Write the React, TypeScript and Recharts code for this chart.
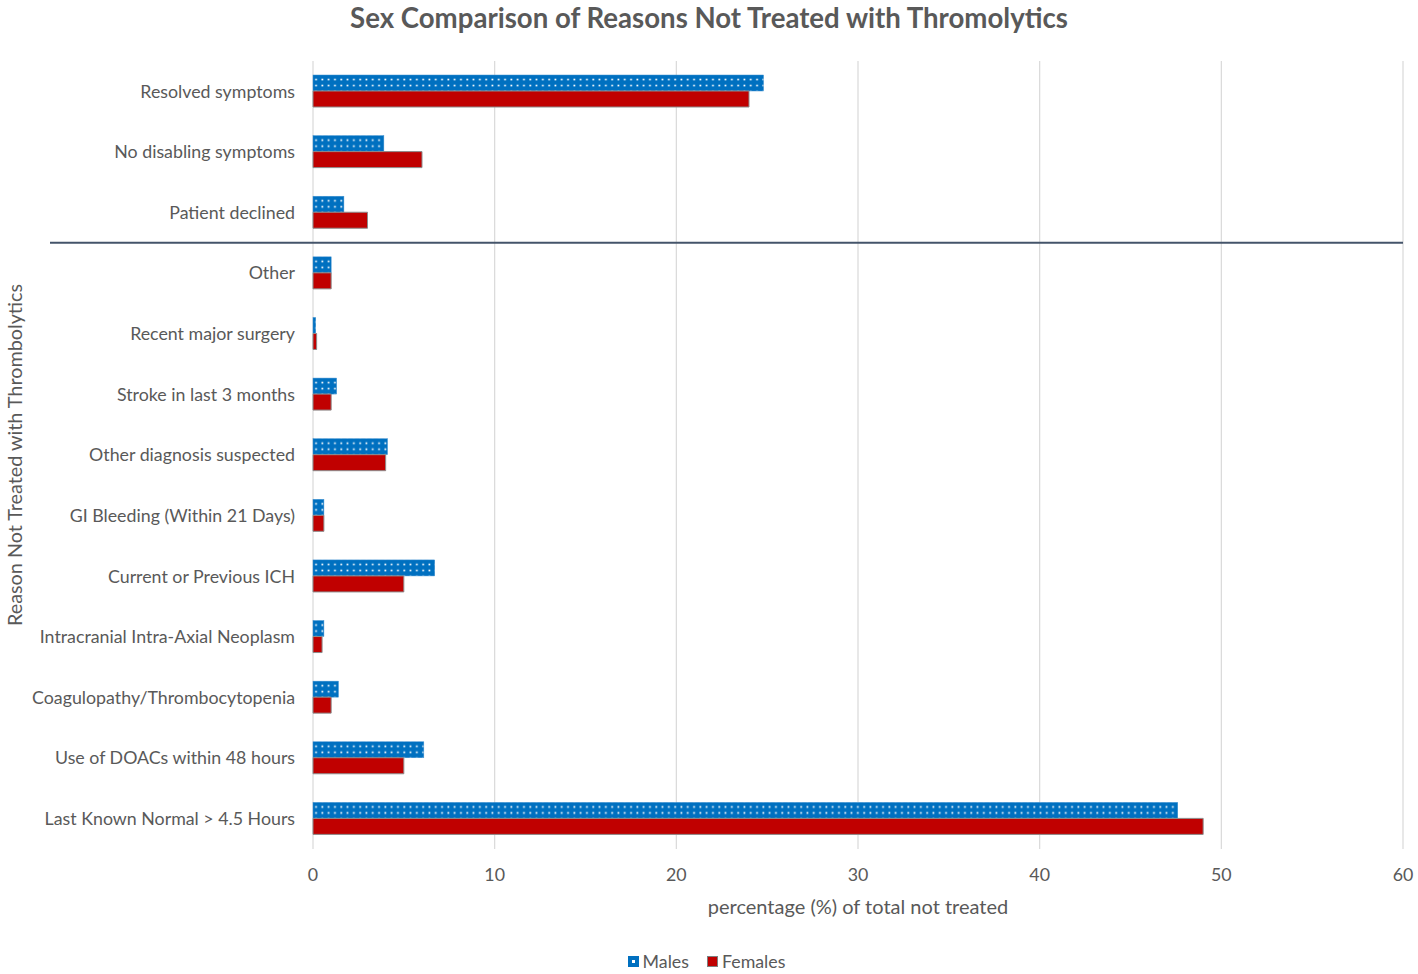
import React from "react";
import {
  BarChart,
  Bar,
  XAxis,
  YAxis,
  CartesianGrid,
  Legend,
  ReferenceLine,
} from "recharts";

const categories = [
  "Resolved symptoms",
  "No disabling symptoms",
  "Patient declined",
  "Other",
  "Recent major surgery",
  "Stroke in last 3 months",
  "Other diagnosis suspected",
  "GI Bleeding (Within 21 Days)",
  "Current or Previous ICH",
  "Intracranial Intra-Axial Neoplasm",
  "Coagulopathy/Thrombocytopenia",
  "Use of DOACs within 48 hours",
  "Last Known Normal > 4.5 Hours",
];
const malesValues = [24.8, 3.9, 1.7, 1.0, 0.15, 1.3, 4.1, 0.6, 6.7, 0.6, 1.4, 6.1, 47.6];
const femalesValues = [24.0, 6.0, 3.0, 1.0, 0.2, 1.0, 4.0, 0.6, 5.0, 0.5, 1.0, 5.0, 49.0];
const xTicks = [0, 10, 20, 30, 40, 50, 60];
const separatorBefore = "Other";

const data = categories.map((name, i) => ({
  name,
  Males: malesValues[i],
  Females: femalesValues[i],
}));

const FONT = "Lato, 'Open Sans', sans-serif";
const TEXT = "#595959";
const BLUE = "#0070C0";
const RED = "#C00000";
const FS = 17.8;

const MaleShape = (props: any) => {
  const { x, y, width, height, index } = props;
  if (!width || width <= 0) return null;
  const id = `maleDots-${index}`;
  return (
    <g>
      <defs>
        <pattern id={id} patternUnits="userSpaceOnUse" x={x} y={y} width={6.3} height={6}>
          <rect x={0} y={0} width={6.3} height={6} fill={BLUE} />
          <rect x={2.2} y={3.7} width={1.7} height={1.7} fill="#fff" />
        </pattern>
      </defs>
      <rect x={x} y={y} width={width} height={height} fill={`url(#${id})`} stroke="#3d8fd0" strokeWidth={0.5} />
    </g>
  );
};

const LegendContent = () => (
  <div
    style={{
      display: "flex",
      justifyContent: "center",
      alignItems: "center",
      fontFamily: FONT,
      fontSize: FS,
      color: TEXT,
      gap: 18,
      lineHeight: "22px",
      paddingLeft: 10,
    }}
  >
    <span style={{ display: "flex", alignItems: "center", gap: 4 }}>
      <svg width={11} height={11}>
        <rect x={0} y={0} width={11} height={11} fill={BLUE} />
        <rect x={4} y={4} width={3} height={3} fill="#fff" />
      </svg>
      Males
    </span>
    <span style={{ display: "flex", alignItems: "center", gap: 4 }}>
      <svg width={11} height={11}>
        <rect x={0.5} y={0.5} width={10} height={10} fill={RED} stroke="#7f7f7f" />
      </svg>
      Females
    </span>
  </div>
);

export default function App() {
  return (
    <div style={{ position: "absolute", left: 0, top: 0, width: 1418, height: 974, background: "#fff" }}>
      <div
        style={{
          position: "absolute",
          left: 0,
          top: 1,
          width: 1418,
          textAlign: "center",
          fontFamily: FONT,
          fontWeight: 700,
          fontSize: 27.6,
          color: TEXT,
        }}
      >
        Sex Comparison of Reasons Not Treated with Thromolytics
      </div>
      <BarChart
        width={1418}
        height={974}
        data={data}
        layout="vertical"
        margin={{ top: 61, right: 15, left: 0, bottom: 2 }}
        barGap={0}
        barSize={16}
      >
        <CartesianGrid horizontal={false} vertical={true} stroke="#d9d9d9" strokeWidth={1.2} />
        <XAxis
          type="number"
          domain={[0, 60]}
          ticks={xTicks}
          axisLine={false}
          tickLine={false}
          tickSize={0}
          tickMargin={19}
          height={101}
          tick={{ fill: TEXT, fontSize: FS, fontFamily: FONT }}
          label={{
            content: (props: any) => {
              const vb = props.viewBox;
              return (
                <text
                  x={vb.x + vb.width / 2}
                  y={vb.y + 57}
                  textAnchor="middle"
                  dominantBaseline="central"
                  fill={TEXT}
                  fontSize={20}
                  fontFamily={FONT}
                >
                  percentage (%) of total not treated
                </text>
              );
            },
          }}
        />
        <YAxis
          type="category"
          dataKey="name"
          width={313}
          axisLine={false}
          tickLine={false}
          tickSize={0}
          tickMargin={18}
          interval={0}
          tick={{ fill: TEXT, fontSize: FS, fontFamily: FONT }}
          label={{
            content: (props: any) => {
              const vb = props.viewBox;
              const cx = vb.x + 14;
              const cy = vb.y + vb.height / 2;
              return (
                <text
                  x={cx}
                  y={cy}
                  transform={`rotate(-90 ${cx} ${cy})`}
                  textAnchor="middle"
                  dominantBaseline="central"
                  fill={TEXT}
                  fontSize={19.8}
                  fontFamily={FONT}
                >
                  Reason Not Treated with Thrombolytics
                </text>
              );
            },
          }}
        />
        <ReferenceLine
          y={separatorBefore}
          position="start"
          shape={(p: any) => (
            <line x1={p.x1 - 263} y1={p.y1} x2={p.x2} y2={p.y2} stroke="#44546A" strokeWidth={2} />
          )}
        />
        <Bar dataKey="Males" fill={BLUE} shape={<MaleShape />} isAnimationActive={false} />
        <Bar dataKey="Females" fill={RED} stroke="#8c8c8c" strokeWidth={1} isAnimationActive={false} />
        <Legend verticalAlign="bottom" content={<LegendContent />} />
      </BarChart>
    </div>
  );
}
